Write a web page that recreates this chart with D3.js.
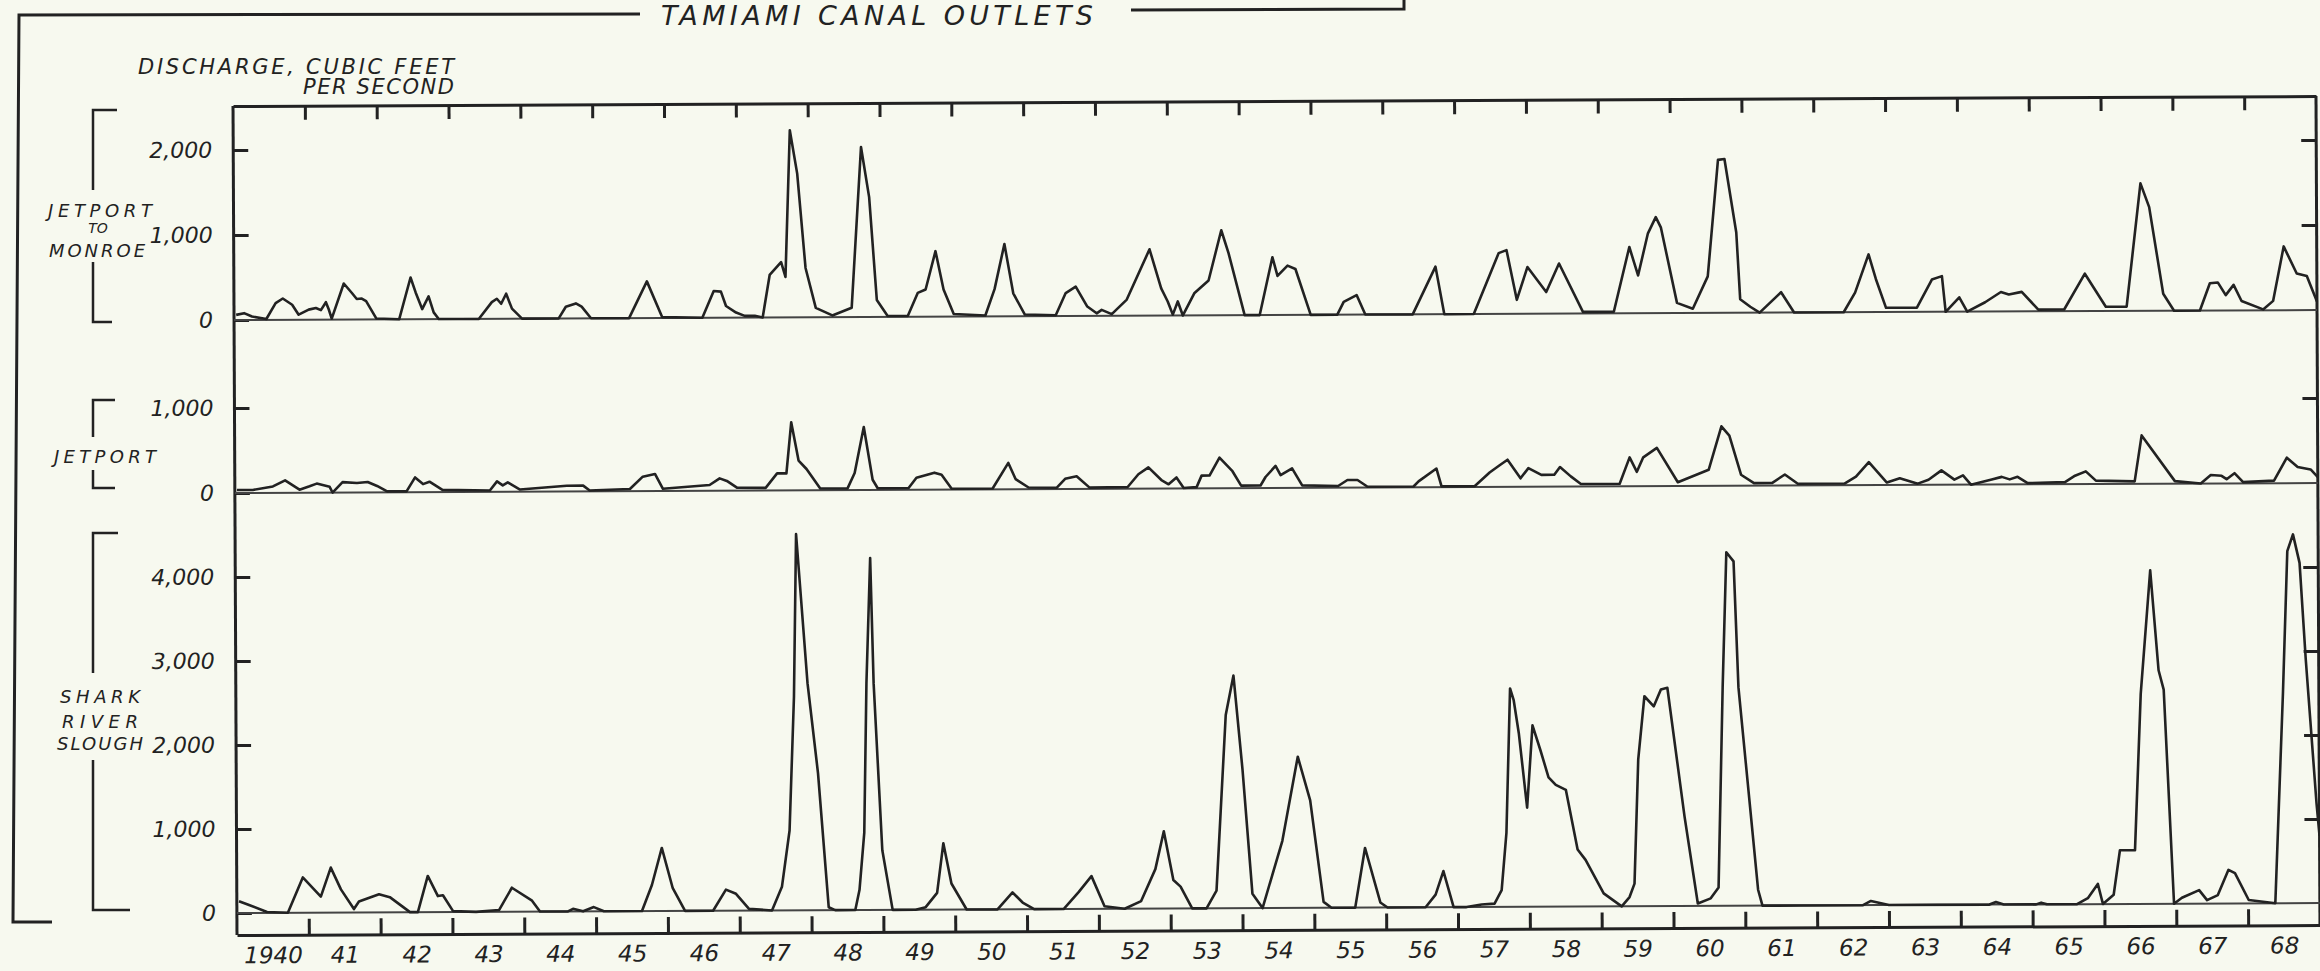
<!DOCTYPE html>
<html>
<head>
<meta charset="utf-8">
<script src="https://cdn.jsdelivr.net/npm/d3@7/dist/d3.min.js"></script>
<style>
  html, body { margin: 0; padding: 0; background: #f7f9ef; }
  svg { display: block; }
  text { font-family: "DejaVu Sans", sans-serif; font-style: italic; fill: #222; }
</style>
</head>
<body>
<div class="draw-chart"></div>
<script>
// year labels under the bottom axis (placed at mid-year)
const yearLabels = ["1940", "41", "42", "43", "44", "45", "46", "47", "48", "49",
  "50", "51", "52", "53", "54", "55", "56", "57", "58", "59",
  "60", "61", "62", "63", "64", "65", "66", "67", "68"];

const topTicks = [0, 1000, 2000];
const midTicks = [0, 1000];
const botTicks = [0, 1000, 2000, 3000, 4000];

// discharge, cubic feet per second  -- [year, cfs]
const jetportToMonroe = [
  [1940.03, 60], [1940.14, 80], [1940.25, 40], [1940.45, 10], [1940.58, 196], [1940.68, 250], [1940.81, 176], [1940.90, 59],
  [1941.04, 118], [1941.14, 137], [1941.21, 111], [1941.28, 204], [1941.32, 118], [1941.36, 10], [1941.53, 423], [1941.64, 314],
  [1941.71, 240], [1941.78, 245], [1941.84, 215], [1941.98, 10], [1942.30, 0], [1942.46, 490], [1942.53, 314], [1942.62, 118],
  [1942.71, 267], [1942.78, 78], [1942.85, 0], [1943.41, 0], [1943.59, 196], [1943.66, 235], [1943.72, 176], [1943.79, 294],
  [1943.87, 118], [1944.01, 0], [1944.52, 0], [1944.62, 137], [1944.76, 176], [1944.84, 137], [1944.97, 0], [1945.50, 0],
  [1945.75, 431], [1945.96, 10], [1946.52, 0], [1946.68, 314], [1946.78, 306], [1946.85, 137], [1946.99, 59], [1947.11, 20],
  [1947.25, 20], [1947.36, 0], [1947.46, 500], [1947.62, 650], [1947.68, 475], [1947.75, 2200], [1947.85, 1690], [1947.96, 580],
  [1948.10, 110], [1948.33, 20], [1948.60, 110], [1948.74, 2000], [1948.85, 1410], [1948.95, 200], [1949.10, 10], [1949.38, 10],
  [1949.52, 280], [1949.63, 320], [1949.77, 770], [1949.88, 320], [1950.02, 30], [1950.46, 10], [1950.59, 320], [1950.73, 850],
  [1950.85, 270], [1951.01, 20], [1951.44, 10], [1951.58, 270], [1951.72, 345], [1951.88, 110], [1952.01, 30], [1952.08, 70],
  [1952.22, 20], [1952.43, 190], [1952.75, 780], [1952.91, 320], [1953.00, 165], [1953.07, 10], [1953.14, 165], [1953.21, 0],
  [1953.37, 260], [1953.57, 410], [1953.75, 1000], [1953.85, 730], [1954.07, 0], [1954.28, 0], [1954.46, 680], [1954.53, 460],
  [1954.67, 580], [1954.78, 540], [1954.99, 0], [1955.36, 0], [1955.45, 150], [1955.63, 230], [1955.75, 0], [1956.41, 0],
  [1956.73, 560], [1956.85, 0], [1957.26, 0], [1957.61, 715], [1957.72, 750], [1957.86, 165], [1958.01, 550], [1958.27, 255],
  [1958.45, 590], [1958.78, 20], [1959.21, 20], [1959.43, 780], [1959.55, 445], [1959.69, 940], [1959.80, 1130], [1959.87, 1010],
  [1960.09, 120], [1960.31, 50], [1960.52, 430], [1960.67, 1800], [1960.76, 1810], [1960.92, 945], [1960.97, 160], [1961.11, 70],
  [1961.24, 0], [1961.54, 240], [1961.72, 0], [1962.41, 0], [1962.57, 230], [1962.76, 680], [1962.86, 390], [1963.00, 50],
  [1963.43, 50], [1963.64, 380], [1963.78, 420], [1963.83, 0], [1964.02, 170], [1964.13, 0], [1964.38, 110], [1964.60, 230],
  [1964.71, 200], [1964.89, 230], [1965.12, 20], [1965.48, 20], [1965.77, 440], [1966.06, 50], [1966.35, 50], [1966.55, 1500],
  [1966.67, 1220], [1966.86, 200], [1967.01, 0], [1967.37, 0], [1967.51, 320], [1967.62, 330], [1967.73, 180], [1967.84, 300],
  [1967.95, 110], [1968.25, 10], [1968.39, 110], [1968.54, 750], [1968.72, 430], [1968.86, 400], [1969.00, 100]
];

const jetport = [
  [1940.03, 35], [1940.25, 35], [1940.53, 75], [1940.70, 145], [1940.90, 35], [1941.04, 75], [1941.14, 106], [1941.32, 67],
  [1941.36, 0], [1941.50, 122], [1941.70, 110], [1941.85, 122], [1941.98, 75], [1942.12, 10], [1942.39, 10], [1942.51, 173],
  [1942.62, 94], [1942.71, 122], [1942.89, 25], [1943.55, 15], [1943.65, 122], [1943.73, 75], [1943.80, 110], [1943.97, 25],
  [1944.62, 67], [1944.85, 67], [1944.94, 10], [1945.50, 25], [1945.68, 169], [1945.85, 200], [1945.96, 25], [1946.61, 67],
  [1946.75, 145], [1946.85, 114], [1946.99, 35], [1947.39, 30], [1947.55, 200], [1947.68, 200], [1947.75, 800], [1947.85, 350],
  [1947.96, 250], [1948.15, 20], [1948.53, 20], [1948.63, 200], [1948.76, 740], [1948.88, 120], [1948.95, 20], [1949.38, 20],
  [1949.49, 140], [1949.74, 200], [1949.84, 175], [1949.98, 10], [1950.55, 10], [1950.77, 310], [1950.87, 120], [1951.05, 20],
  [1951.44, 15], [1951.56, 120], [1951.72, 150], [1951.90, 15], [1952.43, 20], [1952.58, 170], [1952.72, 250], [1952.90, 100],
  [1953.00, 50], [1953.11, 130], [1953.21, 5], [1953.39, 15], [1953.46, 150], [1953.57, 150], [1953.71, 360], [1953.89, 200],
  [1954.01, 30], [1954.28, 30], [1954.35, 130], [1954.49, 260], [1954.56, 150], [1954.72, 230], [1954.86, 30], [1955.36, 20],
  [1955.49, 90], [1955.63, 90], [1955.77, 10], [1956.41, 10], [1956.48, 70], [1956.73, 220], [1956.80, 10], [1957.26, 10],
  [1957.47, 170], [1957.61, 255], [1957.72, 320], [1957.90, 100], [1958.01, 220], [1958.19, 140], [1958.37, 140], [1958.45, 230],
  [1958.60, 120], [1958.74, 30], [1959.28, 30], [1959.42, 340], [1959.52, 170], [1959.61, 340], [1959.80, 450], [1960.09, 45],
  [1960.52, 190], [1960.70, 700], [1960.81, 590], [1960.97, 130], [1961.15, 30], [1961.40, 30], [1961.58, 130], [1961.76, 20],
  [1962.41, 20], [1962.57, 100], [1962.75, 270], [1963.00, 30], [1963.18, 80], [1963.43, 15], [1963.58, 60], [1963.76, 170],
  [1963.94, 60], [1964.06, 110], [1964.17, 0], [1964.46, 60], [1964.60, 90], [1964.71, 60], [1964.82, 90], [1964.96, 15],
  [1965.48, 25], [1965.62, 100], [1965.77, 150], [1965.91, 40], [1966.45, 30], [1966.55, 570], [1967.01, 30], [1967.37, 0],
  [1967.51, 100], [1967.66, 90], [1967.73, 50], [1967.84, 120], [1967.96, 15], [1968.39, 30], [1968.57, 300], [1968.72, 190],
  [1968.90, 160], [1969.00, 70]
];

const sharkRiverSlough = [
  [1940.03, 140], [1940.17, 95], [1940.42, 10], [1940.71, 0], [1940.92, 420], [1941.17, 190], [1941.31, 535], [1941.45, 275],
  [1941.63, 40], [1941.70, 130], [1941.98, 215], [1942.13, 180], [1942.41, 0], [1942.52, 0], [1942.66, 430], [1942.80, 190],
  [1942.87, 200], [1943.01, 10], [1943.33, 0], [1943.65, 20], [1943.83, 285], [1944.11, 130], [1944.22, 0], [1944.61, 0],
  [1944.68, 30], [1944.82, 0], [1944.97, 50], [1945.11, 0], [1945.64, 0], [1945.78, 310], [1945.92, 750], [1946.07, 270],
  [1946.24, 0], [1946.63, 0], [1946.81, 250], [1946.95, 200], [1947.13, 20], [1947.45, 0], [1947.59, 280], [1947.70, 950],
  [1947.77, 2540], [1947.81, 4480], [1947.96, 2700], [1948.10, 1630], [1948.24, 35], [1948.33, 0], [1948.61, 0], [1948.67, 240],
  [1948.74, 920], [1948.78, 2700], [1948.84, 4190], [1948.88, 2700], [1948.99, 710], [1949.13, 0], [1949.45, 0], [1949.59, 30],
  [1949.75, 200], [1949.84, 790], [1949.95, 310], [1950.16, 0], [1950.59, 0], [1950.80, 200], [1950.94, 80], [1951.10, 0],
  [1951.51, 0], [1951.72, 200], [1951.90, 390], [1952.08, 30], [1952.36, 0], [1952.59, 90], [1952.79, 470], [1952.91, 920],
  [1953.04, 340], [1953.14, 260], [1953.30, 0], [1953.50, 0], [1953.64, 210], [1953.78, 2300], [1953.89, 2770], [1954.01, 1650],
  [1954.14, 170], [1954.28, 0], [1954.56, 800], [1954.78, 1800], [1954.95, 1280], [1955.13, 70], [1955.24, 0], [1955.57, 0],
  [1955.71, 710], [1955.92, 60], [1956.02, 0], [1956.55, 0], [1956.69, 150], [1956.80, 430], [1956.94, 0], [1957.12, 0],
  [1957.33, 30], [1957.51, 40], [1957.61, 200], [1957.68, 880], [1957.74, 2600], [1957.79, 2460], [1957.86, 2060], [1957.97, 1180],
  [1958.05, 2160], [1958.16, 1860], [1958.27, 1540], [1958.37, 1450], [1958.51, 1390], [1958.67, 680], [1958.78, 555], [1959.03, 155],
  [1959.28, 0], [1959.39, 110], [1959.46, 270], [1959.52, 1750], [1959.61, 2500], [1959.74, 2380], [1959.84, 2580], [1959.93, 2600],
  [1960.16, 1070], [1960.34, 30], [1960.52, 90], [1960.63, 220], [1960.70, 2600], [1960.76, 4210], [1960.86, 4100], [1960.92, 2600],
  [1961.18, 190], [1961.24, 0], [1961.76, 0], [1962.64, 0], [1962.75, 50], [1963.00, 0], [1964.40, 0], [1964.49, 30],
  [1964.60, 0], [1965.05, 0], [1965.12, 20], [1965.20, 0], [1965.62, 0], [1965.77, 70], [1965.91, 240], [1965.98, 0],
  [1966.13, 110], [1966.22, 640], [1966.43, 640], [1966.52, 2500], [1966.66, 3970], [1966.77, 2780], [1966.84, 2550], [1966.97, 0],
  [1967.08, 70], [1967.32, 160], [1967.43, 40], [1967.58, 100], [1967.73, 400], [1967.82, 360], [1968.01, 40], [1968.38, 0],
  [1968.50, 2500], [1968.57, 4190], [1968.65, 4390], [1968.74, 4050], [1968.82, 2900], [1968.96, 1190], [1969.00, 800]
];

const width = 2320;
const height = 971;
const ink = "#222";

const svg = d3
  .select(".draw-chart")
  .append("svg")
  .attr("width", width)
  .attr("height", height);

svg.append("rect").attr("width", width).attr("height", height).attr("fill", "#f7f9ef");

// outer frame and title (hand drawn, sits outside the plot)
svg.append("path")
  .attr("d", "M52,922 L13,922 L19,15 L640,14")
  .attr("fill", "none").attr("stroke", ink).attr("stroke-width", 3);
svg.append("path")
  .attr("d", "M1131,10 L1404,9 L1404,0")
  .attr("fill", "none").attr("stroke", ink).attr("stroke-width", 3);
svg.append("text")
  .attr("x", 661).attr("y", 25)
  .attr("font-size", 27)
  .attr("textLength", 432).attr("lengthAdjust", "spacing")
  .text("TAMIAMI CANAL OUTLETS");

svg.append("text")
  .attr("x", 138).attr("y", 74)
  .attr("font-size", 21)
  .attr("textLength", 316).attr("lengthAdjust", "spacing")
  .text("DISCHARGE, CUBIC FEET");
svg.append("text")
  .attr("x", 303).attr("y", 94)
  .attr("font-size", 21)
  .attr("textLength", 151).attr("lengthAdjust", "spacing")
  .text("PER SECOND");

// the sheet is slightly tilted: right side sits ~10px higher
const g = svg.append("g").attr("transform", "rotate(-0.275,235,520)");

const x = d3.scaleLinear().domain([1940, 1969]).range([235, 2318]);
const plotTop = 106;
const plotBottom = 935;

const panels = [
  { data: jetportToMonroe, ticks: topTicks, y: d3.scaleLinear().domain([0, 2000]).range([320, 150]) },
  { data: jetport, ticks: midTicks, y: d3.scaleLinear().domain([0, 1000]).range([493, 408]) },
  { data: sharkRiverSlough, ticks: botTicks, y: d3.scaleLinear().domain([0, 4000]).range([913, 577]) }
];

const yearBounds = d3.range(1941, 1969);

// top border with ticks pointing down
g.append("g")
  .attr("class", "axis")
  .attr("transform", "translate(0," + plotTop + ")")
  .call(d3.axisTop(x).tickValues(yearBounds).tickSizeInner(-14).tickSizeOuter(0).tickFormat(""));

// bottom axis with ticks pointing up
g.append("g")
  .attr("class", "axis")
  .attr("transform", "translate(0," + plotBottom + ")")
  .call(d3.axisBottom(x).tickValues(yearBounds).tickSizeInner(-16).tickSizeOuter(0).tickFormat(""));

// year labels at mid-year
g.append("g")
  .attr("class", "axis labels")
  .attr("transform", "translate(0," + plotBottom + ")")
  .call(
    d3.axisBottom(x)
      .tickValues(yearLabels.map((d, i) => 1940.5 + i))
      .tickSize(0)
      .tickPadding(12)
      .tickFormat((d, i) => yearLabels[i])
  )
  .call((s) => s.select(".domain").remove())
  .selectAll("text")
  .attr("font-size", 23);

// left and right frame of the plot
g.append("line").attr("x1", x(1940)).attr("x2", x(1940)).attr("y1", plotTop).attr("y2", plotBottom)
  .attr("stroke", ink).attr("stroke-width", 3);
g.append("line").attr("x1", x(1969)).attr("x2", x(1969)).attr("y1", plotTop).attr("y2", plotBottom)
  .attr("stroke", ink).attr("stroke-width", 3);

const line = (y) =>
  d3.line()
    .x((d) => x(d[0]))
    .y((d) => y(d[1]));

panels.forEach((p) => {
  // left ticks + labels
  g.append("g")
    .attr("class", "axis")
    .attr("transform", "translate(" + x(1940) + ",0)")
    .call(d3.axisLeft(p.y).tickValues(p.ticks).tickSizeInner(-15).tickSizeOuter(0).tickPadding(21).tickFormat(d3.format(",")))
    .call((s) => s.select(".domain").remove())
    .selectAll("text")
    .attr("font-size", 22);

  // right ticks
  g.append("g")
    .attr("class", "axis")
    .attr("transform", "translate(" + x(1969) + ",0)")
    .call(d3.axisRight(p.y).tickValues(p.ticks.filter((t) => t > 0)).tickSizeInner(-15).tickSizeOuter(0).tickFormat(""))
    .call((s) => s.select(".domain").remove());

  // zero line
  g.append("line")
    .attr("x1", x(1940)).attr("x2", x(1969))
    .attr("y1", p.y(0)).attr("y2", p.y(0))
    .attr("stroke", "#444").attr("stroke-width", 2);

  // series
  g.append("path")
    .datum(p.data)
    .attr("fill", "none")
    .attr("stroke", ink)
    .attr("stroke-width", 2.6)
    .attr("stroke-linejoin", "round")
    .attr("d", line(p.y));
});

g.selectAll(".axis path, .axis line").attr("stroke", ink).attr("stroke-width", 3);
g.selectAll(".axis text").attr("fill", ink).attr("font-family", "DejaVu Sans, sans-serif").attr("font-style", "italic");

// bracketed station names on the left
const brackets = [
  { d: "M117,110 L93,110 L93,190 M93,262 L93,322 L112,322",
    lines: [["JETPORT", 100, 217, 18, 104], ["TO", 98, 233, 14, 0], ["MONROE", 97, 257, 18, 96]] },
  { d: "M115,400 L93,400 L93,437 M93,470 L93,488 L115,488",
    lines: [["JETPORT", 105, 463, 18, 102]] },
  { d: "M118,533 L93,533 L93,673 M93,760 L93,910 L130,910",
    lines: [["SHARK", 100, 703, 18, 80], ["RIVER", 100, 728, 18, 76], ["SLOUGH", 100, 750, 18, 86]] }
];

brackets.forEach((b) => {
  svg.append("path").attr("d", b.d).attr("fill", "none").attr("stroke", ink).attr("stroke-width", 2.5);
  b.lines.forEach(([t, cx, by, fs, len]) => {
    const el = svg.append("text")
      .attr("x", cx).attr("y", by)
      .attr("text-anchor", "middle")
      .attr("font-size", fs)
      .text(t);
    if (len) el.attr("textLength", len).attr("lengthAdjust", "spacing");
  });
});
</script>
</body>
</html>
